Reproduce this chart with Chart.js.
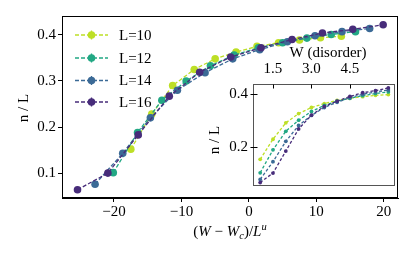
<!DOCTYPE html>
<html><head><meta charset="utf-8">
<script src="https://cdn.jsdelivr.net/npm/chart.js@4.4.0/dist/chart.umd.min.js"></script>
<style>
html,body{margin:0;padding:0;background:#fff;}
#wrap{position:relative;width:415px;height:257px;overflow:hidden;}
#main{position:absolute;left:0;top:0;width:415px;height:257px;}
#inset{position:absolute;left:205px;top:40px;width:205px;height:160px;}
</style></head><body>
<div id="wrap"><canvas id="main" width="415" height="257"></canvas><canvas id="inset" width="205" height="160"></canvas></div>
<script>
// ---- data ----
const seriesLabels = ['L=10', 'L=12', 'L=14', 'L=16'];
const seriesColors = ['#bddf26', '#22a884', '#3b6a96', '#472c7a'];
const disorderW = [1.0, 1.5, 2.0, 2.5, 3.0, 3.5, 4.0, 4.5, 5.0, 5.5, 6.0];
// scaled x = (W - Wc)/L^u
const scaledX10 = [-17.5, -14.4, -11.3, -8.1, -5.0, -1.9, 1.2, 4.4, 7.5, 10.6, 13.7];
const scaledX12 = [-20.1, -16.5, -12.9, -9.3, -5.7, -2.2, 1.4, 5.0, 8.6, 12.2, 15.8];
const scaledX14 = [-22.8, -18.7, -14.6, -10.6, -6.5, -2.4, 1.6, 5.7, 9.8, 13.8, 17.9];
const scaledX16 = [-25.4, -20.9, -16.4, -11.8, -7.3, -2.7, 1.8, 6.4, 10.9, 15.4, 19.9];
// n / L
const nL10 = [0.152, 0.228, 0.290, 0.325, 0.348, 0.363, 0.375, 0.383, 0.389, 0.394, 0.397];
const nL12 = [0.101, 0.188, 0.258, 0.300, 0.333, 0.356, 0.372, 0.383, 0.393, 0.401, 0.407];
const nL14 = [0.076, 0.143, 0.220, 0.280, 0.318, 0.348, 0.368, 0.385, 0.398, 0.407, 0.414];
const nL16 = [0.064, 0.100, 0.183, 0.267, 0.319, 0.352, 0.372, 0.390, 0.404, 0.412, 0.422];
const mainXTicks = [-20, -10, 0, 10, 20];
const mainYTicks = [0.1, 0.2, 0.3, 0.4];
const insetXTicks = [1.5, 3.0, 4.5];
const insetYTicks = [0.2, 0.4];

const SERIF = '"Liberation Serif", "DejaVu Serif", serif';
const FONT = {family: SERIF, size: 15};
const scaledXs = [scaledX10, scaledX12, scaledX14, scaledX16];
const nLs = [nL10, nL12, nL14, nL16];
const fmtMinus = v => (v < 0 ? '\u2212' + Math.abs(v) : String(v));

function mainDatasets() {
  return seriesLabels.map((lab, i) => ({
    label: lab,
    data: scaledXs[i].map((x, k) => ({x: x, y: nLs[i][k]})),
    showLine: true, borderColor: seriesColors[i], borderWidth: 1.3, borderDash: [4, 2],
    pointRadius: 3.8, pointBackgroundColor: seriesColors[i], pointBorderWidth: 0,
    order: 3 - i
  }));
}
function insetDatasets() {
  return seriesLabels.map((lab, i) => ({
    label: lab,
    data: disorderW.map((w, k) => ({x: w, y: nLs[i][k]})),
    showLine: true, borderColor: seriesColors[i], borderWidth: 1.3, borderDash: [3, 2],
    pointRadius: 1.9, pointBackgroundColor: seriesColors[i], pointBorderWidth: 0,
    order: 3 - i
  }));
}

const mainDecor = {
  id: 'mainDecor',
  afterDraw(chart) {
    const {ctx, chartArea: a} = chart;
    ctx.save();
    ctx.strokeStyle = '#000'; ctx.lineWidth = 1;
    ctx.strokeRect(Math.round(a.left) + 0.5, Math.round(a.top) + 0.5, Math.round(a.right - a.left) - 1, Math.round(a.bottom - a.top) - 1);
    // legend
    ctx.font = '15px ' + SERIF; ctx.textBaseline = 'middle'; ctx.textAlign = 'left';
    const rows = [35, 58, 80.5, 102];
    seriesLabels.forEach((lab, i) => {
      const y = rows[i];
      ctx.strokeStyle = seriesColors[i]; ctx.lineWidth = 1.3; ctx.setLineDash([4, 2]);
      ctx.beginPath(); ctx.moveTo(75, y); ctx.lineTo(108, y); ctx.stroke();
      ctx.setLineDash([]);
      ctx.beginPath(); ctx.moveTo(91.5, y - 4.5); ctx.lineTo(91.5, y + 4.5); ctx.stroke();
      ctx.fillStyle = seriesColors[i];
      ctx.beginPath(); ctx.arc(91.5, y, 3.8, 0, Math.PI * 2); ctx.fill();
      ctx.fillStyle = '#000';
      ctx.fillText(lab, 119, y + 1);
    });
    // y title
    ctx.save(); ctx.translate(24, 108); ctx.rotate(-Math.PI / 2);
    ctx.textAlign = 'center'; ctx.fillText('n / L', 0, 0); ctx.restore();
    // x title: (W − W_c)/L^u
    const base = 236;
    const parts = [
      ['(', '15px ' + SERIF, 0], ['W', 'italic 15px ' + SERIF, 0], [' \u2212 ', '15px ' + SERIF, 0],
      ['W', 'italic 15px ' + SERIF, 0], ['c', 'italic 10.5px ' + SERIF, 3], [')', '15px ' + SERIF, 0],
      ['/', '15px ' + SERIF, 0], ['L', 'italic 15px ' + SERIF, 0], ['u', 'italic 10.5px ' + SERIF, -6]
    ];
    ctx.textBaseline = 'alphabetic';
    let tw = 0;
    parts.forEach(p => { ctx.font = p[1]; tw += ctx.measureText(p[0]).width; });
    let x = 230 - tw / 2;
    parts.forEach(p => { ctx.font = p[1]; ctx.fillText(p[0], x, base + p[2]); x += ctx.measureText(p[0]).width; });
    ctx.restore();
  }
};

new Chart(document.getElementById('main'), {
  type: 'scatter',
  data: {datasets: mainDatasets()},
  options: {
    responsive: false, animation: false, devicePixelRatio: 1,
    layout: {padding: {top: 16, right: 17, left: 0, bottom: 0}},
    plugins: {legend: {display: false}, tooltip: {enabled: false}},
    scales: {
      x: {
        type: 'linear', min: -27.7, max: 22.1,
        afterBuildTicks: s => { s.ticks = mainXTicks.map(v => ({value: v})); },
        afterFit: s => { s.height = 59; },
        grid: {drawOnChartArea: false, drawTicks: true, tickLength: 4, color: '#000', tickWidth: 1},
        border: {display: true, color: '#000', width: 1},
        ticks: {font: FONT, color: '#000', padding: 1, maxRotation: 0, callback: v => fmtMinus(v)}
      },
      y: {
        type: 'linear', min: 0.046, max: 0.441,
        afterBuildTicks: s => { s.ticks = mainYTicks.map(v => ({value: v})); },
        afterFit: s => { s.width = 62; },
        grid: {drawOnChartArea: false, drawTicks: true, tickLength: 4, color: '#000', tickWidth: 1},
        border: {display: true, color: '#000', width: 1},
        ticks: {font: FONT, color: '#000', padding: 2, callback: v => v.toFixed(1)}
      }
    }
  },
  plugins: [mainDecor]
});

const insetDecor = {
  id: 'insetDecor',
  beforeDatasetsDraw(chart) {
    const {ctx, chartArea: a} = chart;
    ctx.save(); ctx.fillStyle = '#fff';
    ctx.fillRect(a.left, a.top, a.right - a.left, a.bottom - a.top); ctx.restore();
  },
  afterDraw(chart) {
    const {ctx, chartArea: a, scales} = chart;
    ctx.save();
    ctx.strokeStyle = '#555'; ctx.lineWidth = 1;
    const L = Math.round(a.left) + 0.5, T = Math.round(a.top) + 0.5;
    ctx.strokeRect(L, T, Math.round(a.right - a.left) - 1, Math.round(a.bottom - a.top) - 1);
    ctx.strokeStyle = '#000';
    insetXTicks.forEach(v => {
      const x = Math.round(scales.x.getPixelForValue(v)) + 0.5;
      ctx.beginPath(); ctx.moveTo(x, T); ctx.lineTo(x, T + 4); ctx.stroke();
    });
    insetYTicks.forEach(v => {
      const y = Math.round(scales.y.getPixelForValue(v)) + 0.5;
      ctx.beginPath(); ctx.moveTo(L - 3, y); ctx.lineTo(L + 4, y); ctx.stroke();
    });
    ctx.fillStyle = '#000'; ctx.font = '15px ' + SERIF;
    ctx.textAlign = 'center'; ctx.textBaseline = 'middle';
    ctx.fillText('W (disorder)', 123, 13);
    ctx.save(); ctx.translate(10, 100); ctx.rotate(-Math.PI / 2);
    ctx.fillText('n / L', 0, 0); ctx.restore();
    ctx.restore();
  }
};

new Chart(document.getElementById('inset'), {
  type: 'scatter',
  data: {datasets: insetDatasets()},
  options: {
    responsive: false, animation: false, devicePixelRatio: 1,
    layout: {padding: {top: 0, right: 15, left: 0, bottom: 7}},
    plugins: {legend: {display: false}, tooltip: {enabled: false}},
    scales: {
      x: {
        type: 'linear', position: 'top', min: 0.72, max: 6.26,
        afterBuildTicks: s => { s.ticks = insetXTicks.map(v => ({value: v})); },
        afterFit: s => { s.height = 44; },
        grid: {drawOnChartArea: false, drawTicks: false},
        border: {display: false},
        ticks: {font: FONT, color: '#000', padding: 6, maxRotation: 0, callback: v => v.toFixed(1)}
      },
      y: {
        type: 'linear', min: 0.051, max: 0.437,
        afterBuildTicks: s => { s.ticks = insetYTicks.map(v => ({value: v})); },
        afterFit: s => { s.width = 48; },
        grid: {drawOnChartArea: false, drawTicks: false},
        border: {display: false},
        ticks: {font: FONT, color: '#000', padding: 5, callback: v => v.toFixed(1)}
      }
    }
  },
  plugins: [insetDecor]
});
</script>
</body></html>
